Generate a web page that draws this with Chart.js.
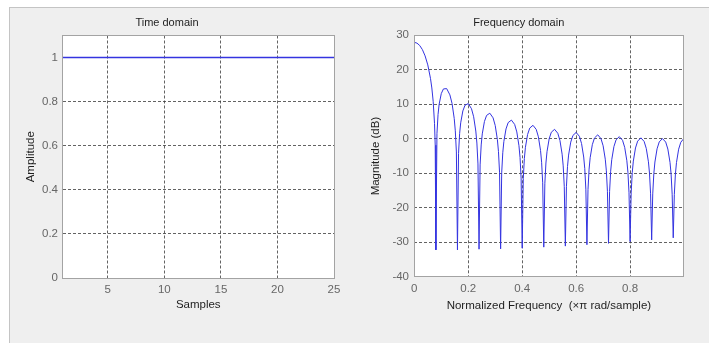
<!DOCTYPE html>
<html><head><meta charset="utf-8">
<script src="https://cdn.jsdelivr.net/npm/chart.js@4"></script>
<style>
html,body{margin:0;padding:0;background:#fff;width:709px;height:343px;overflow:hidden}
#panel{position:absolute;left:9px;top:7px;width:700px;height:336px;background:#efefef;border-left:1px solid #c4c4c4;border-top:1px solid #c4c4c4}
canvas{position:absolute;top:0}
</style></head><body>
<div id="panel"></div>
<canvas id="c1" width="354" height="343" style="left:0px"></canvas>
<canvas id="c2" width="355" height="343" style="left:354px"></canvas>
<script>
// ---- Time domain (rectangular window, 25 samples) ----
const timeSamples = [1,2,3,4,5,6,7,8,9,10,11,12,13,14,15,16,17,18,19,20,21,22,23,24,25];
const timeAmplitude = [1,1,1,1,1,1,1,1,1,1,1,1,1,1,1,1,1,1,1,1,1,1,1,1,1];
const timeXTicks = [5,10,15,20,25];
const timeYTicks = [0,0.2,0.4,0.6,0.8,1];

// ---- Frequency domain (normalized frequency, x pi rad/sample) ----
const freqValues = [
  0,0.01,0.02,0.03,0.04,0.05,0.06,0.065,0.07,0.075,0.0775,0.08,
  0.084,0.088,0.092,0.1,0.108,0.12,0.132,0.14,0.148,0.152,0.156,0.16,
  0.164,0.168,0.172,0.18,0.188,0.2,0.212,0.22,0.228,0.232,0.236,0.24,
  0.244,0.248,0.252,0.26,0.268,0.28,0.292,0.3,0.308,0.312,0.316,0.32,
  0.324,0.328,0.332,0.34,0.348,0.36,0.372,0.38,0.388,0.392,0.396,0.4,
  0.404,0.408,0.412,0.42,0.428,0.44,0.452,0.46,0.468,0.472,0.476,0.48,
  0.484,0.488,0.492,0.5,0.508,0.52,0.532,0.54,0.548,0.552,0.556,0.56,
  0.564,0.568,0.572,0.58,0.588,0.6,0.612,0.62,0.628,0.632,0.636,0.64,
  0.644,0.648,0.652,0.66,0.668,0.68,0.692,0.7,0.708,0.712,0.716,0.72,
  0.724,0.728,0.732,0.74,0.748,0.76,0.772,0.78,0.788,0.792,0.796,0.8,
  0.804,0.808,0.812,0.82,0.828,0.84,0.852,0.86,0.868,0.872,0.876,0.88,
  0.884,0.888,0.892,0.9,0.908,0.92,0.932,0.94,0.948,0.952,0.956,0.96,
  0.964,0.968,0.972,0.98,0.988,0.998
];
const magnitudeDb = [
  27.96,27.73,27.05,25.85,24.04,21.42,17.52,14.73,10.85,4.40,-1.86,-32.2,
  1.51,7.02,9.97,13.10,14.45,14.55,12.73,10.22,5.89,2.32,-3.81,-32.2,
  -4.22,1.49,4.63,8.08,9.73,10.20,8.72,6.39,2.25,-1.23,-7.29,-32.0,
  -7.56,-1.78,1.42,5.01,6.78,7.42,6.08,3.85,-0.21,-3.65,-9.67,-31.9,
  -9.86,-4.05,-0.80,2.86,4.69,5.42,4.17,1.99,-2.01,-5.43,-11.41,-31.7,
  -11.56,-5.73,-2.46,1.24,3.11,3.91,2.72,0.58,-3.39,-6.79,-12.76,-31.4,
  -12.88,-7.02,-3.74,0.00,1.91,2.75,1.60,-0.51,-4.46,-7.84,-13.80,-31.1,
  -13.89,-8.02,-4.72,-0.96,0.97,1.84,0.73,-1.36,-5.28,-8.66,-14.60,-30.7,
  -14.67,-8.80,-5.49,-1.71,0.24,1.15,0.06,-2.01,-5.91,-9.28,-15.21,-30.3,
  -15.26,-9.38,-6.06,-2.26,-0.30,0.63,-0.43,-2.48,-6.37,-9.72,-15.65,-29.8,
  -15.69,-9.80,-6.47,-2.66,-0.68,0.28,-0.76,-2.80,-6.67,-10.02,-15.94,-29.3,
  -15.96,-10.06,-6.73,-2.90,-0.91,0.07,-0.95,-2.97,-6.83,-10.17,-16.09,-28.7,
  -16.10,-10.19,-6.86,-3.01,-1.00,-0.03
];
const freqXTicks = [0,0.2,0.4,0.6,0.8];
const freqYTicks = [-40,-30,-20,-10,0,10,20,30];

const FONT = '"Liberation Sans", Arial, Helvetica, sans-serif';
const LINE = '#3434e0';
const GRID = 'rgba(60,60,60,0.8)';
const TICKC = '#666666';
const TITLEC = '#1e1e1e';

const framePlugin = {
  id: 'frame',
  beforeDraw(chart) {
    const a = chart.chartArea, ctx = chart.ctx;
    ctx.save(); ctx.fillStyle = '#ffffff';
    ctx.fillRect(a.left, a.top, a.right - a.left, a.bottom - a.top);
    ctx.restore();
  },
  afterDraw(chart) {
    const a = chart.chartArea, ctx = chart.ctx;
    const l = Math.floor(a.left) + 0.5, r = Math.floor(a.right) + 0.5;
    const t = Math.floor(a.top) + 0.5, b = Math.floor(a.bottom) + 0.5;
    ctx.save(); ctx.strokeStyle = '#a3a3a3'; ctx.lineWidth = 1;
    ctx.strokeRect(l, t, r - l, b - t);
    ctx.restore();
  }
};

function makeChart(id, cfg) {
  const pts = cfg.xs.map((x, i) => ({x: x, y: cfg.ys[i]}));
  const gridColor = (edges) => (c) => (c.tick && edges.includes(c.tick.value)) ? 'rgba(0,0,0,0)' : GRID;
  return new Chart(document.getElementById(id), {
    type: 'line',
    data: { datasets: [{ data: pts, borderColor: LINE, borderWidth: cfg.lineWidth, pointRadius: 0, tension: 0, fill: false }] },
    plugins: [framePlugin],
    options: {
      responsive: false, animation: false, devicePixelRatio: 1,
      layout: { padding: { left: 0, top: 16, right: cfg.padRight, bottom: cfg.padBottom } },
      plugins: {
        legend: { display: false }, tooltip: { enabled: false },
        title: { display: true, text: cfg.title, color: TITLEC,
          font: { family: FONT, size: 11, weight: 'normal' }, padding: { top: 0, bottom: cfg.titleGap } }
      },
      scales: {
        x: {
          type: 'linear', min: cfg.xMin, max: cfg.xMax,
          afterBuildTicks: (s) => { s.ticks = cfg.xTicks.map(v => ({value: v})); },
          afterFit: (s) => { s.height = cfg.xHeight; },
          ticks: { color: TICKC, font: { family: FONT, size: 11.5 }, padding: cfg.xTickPad, maxRotation: 0, autoSkip: false, callback: (v) => String(v) },
          grid: { drawTicks: false, color: gridColor(cfg.xEdges), lineWidth: 1 },
          border: { display: false, dash: [3, 2] },
          title: { display: true, text: cfg.xTitle, color: TITLEC, font: { family: FONT, size: 11.5 }, padding: { top: 0, bottom: 0 } }
        },
        y: {
          type: 'linear', min: cfg.yMin, max: cfg.yMax,
          afterBuildTicks: (s) => { s.ticks = cfg.yTicks.map(v => ({value: v})); },
          afterFit: (s) => { s.width = cfg.yWidth; },
          ticks: { color: TICKC, font: { family: FONT, size: 11.5 }, padding: cfg.yTickPad, autoSkip: false, callback: (v) => String(v) },
          grid: { drawTicks: false, color: gridColor(cfg.yEdges), lineWidth: 1 },
          border: { display: false, dash: [3, 2] },
          title: { display: true, text: cfg.yTitle, color: TITLEC, font: { family: FONT, size: 11.5 }, padding: { top: cfg.yTitlePad, bottom: 0 } }
        }
      }
    }
  });
}

makeChart('c1', {
  xs: timeSamples, ys: timeAmplitude, title: 'Time domain',
  xTitle: 'Samples', yTitle: 'Amplitude', lineWidth: 1.4,
  xMin: 1, xMax: 25, yMin: 0, yMax: 1.1,
  xTicks: timeXTicks, yTicks: timeYTicks, xEdges: [25], yEdges: [0, 1],
  padRight: 20, padBottom: 31.1, titleGap: 6.3,
  xHeight: 33.9, xTickPad: 5.1, yWidth: 62.5, yTickPad: 4.5, yTitlePad: 23.8
});

makeChart('c2', {
  xs: freqValues, ys: magnitudeDb, title: 'Frequency domain',
  xTitle: 'Normalized Frequency  (\u00d7\u03c0 rad/sample)', yTitle: 'Magnitude (dB)', lineWidth: 1,
  xMin: 0, xMax: freqValues[freqValues.length - 1], yMin: -40, yMax: 30,
  xTicks: freqXTicks, yTicks: freqYTicks, xEdges: [0], yEdges: [-40, 30],
  padRight: 25.5, padBottom: 30.6, titleGap: 6.1,
  xHeight: 35.6, xTickPad: 5.6, yWidth: 60.3, yTickPad: 5.3, yTitlePad: 15.1
});
</script>
</body></html>
